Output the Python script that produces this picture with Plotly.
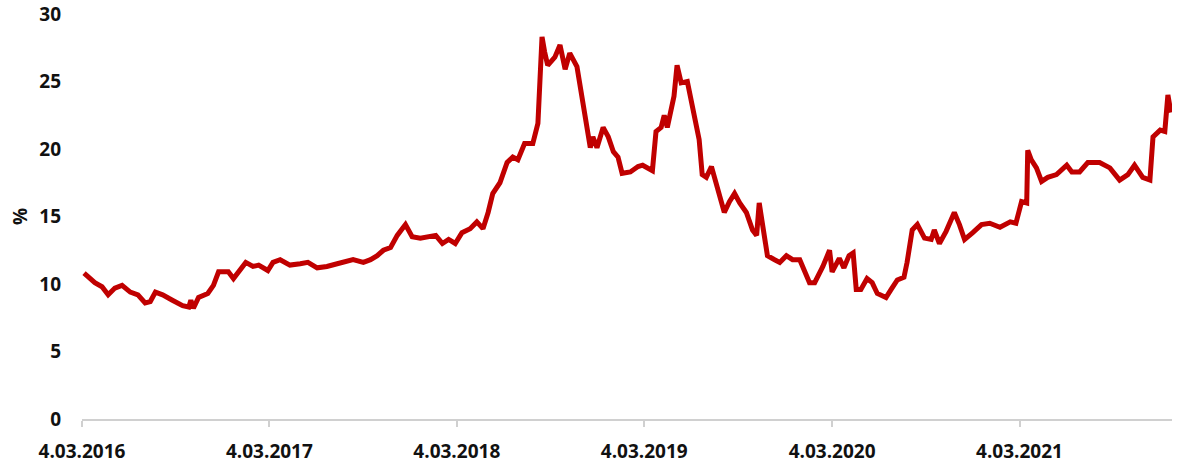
import plotly.graph_objects as go

dates = [
    "2016-03-08", "2016-03-29", "2016-04-12", "2016-04-24", "2016-05-07", "2016-05-21",
    "2016-06-06", "2016-06-21", "2016-07-05", "2016-07-15", "2016-07-25", "2016-08-08",
    "2016-08-27", "2016-09-16", "2016-09-28", "2016-10-02", "2016-10-07", "2016-10-17",
    "2016-11-04", "2016-11-15", "2016-11-25", "2016-12-14", "2016-12-24", "2017-01-03",
    "2017-01-17", "2017-01-31", "2017-02-11", "2017-03-01", "2017-03-11", "2017-03-25",
    "2017-04-13", "2017-05-03", "2017-05-18", "2017-06-05", "2017-06-24", "2017-07-14",
    "2017-08-14", "2017-09-03", "2017-09-17", "2017-09-30", "2017-10-12", "2017-10-26",
    "2017-11-08", "2017-11-24", "2017-12-07", "2017-12-23", "2018-01-12", "2018-01-22",
    "2018-02-04", "2018-02-16", "2018-03-01", "2018-03-14", "2018-03-30", "2018-04-12",
    "2018-04-24", "2018-05-04", "2018-05-13", "2018-05-27", "2018-06-10", "2018-06-21",
    "2018-07-01", "2018-07-14", "2018-07-30", "2018-08-09", "2018-08-13", "2018-08-17",
    "2018-08-22", "2018-08-28", "2018-09-11", "2018-09-21", "2018-10-01", "2018-10-10",
    "2018-10-24", "2018-11-03", "2018-11-13", "2018-11-19", "2018-11-24", "2018-12-02",
    "2018-12-14", "2018-12-24", "2019-01-03", "2019-01-12", "2019-01-20", "2019-02-05",
    "2019-02-20", "2019-03-01", "2019-03-20", "2019-03-27", "2019-04-06", "2019-04-12",
    "2019-04-18", "2019-05-01", "2019-05-07", "2019-05-15", "2019-05-27", "2019-06-10",
    "2019-06-19", "2019-06-25", "2019-07-03", "2019-07-13", "2019-07-22", "2019-08-01",
    "2019-08-07", "2019-08-17", "2019-08-27", "2019-09-06", "2019-09-19", "2019-10-01",
    "2019-10-09", "2019-10-14", "2019-10-24", "2019-10-30", "2019-11-13", "2019-11-23",
    "2019-12-06", "2019-12-18", "2020-01-01", "2020-01-11", "2020-01-20", "2020-01-30",
    "2020-02-09", "2020-02-15", "2020-02-28", "2020-03-04", "2020-03-18", "2020-03-27",
    "2020-04-06", "2020-04-14", "2020-04-20", "2020-04-29", "2020-05-11", "2020-05-21",
    "2020-05-31", "2020-06-17", "2020-06-27", "2020-07-09", "2020-07-22", "2020-07-28",
    "2020-08-07", "2020-08-17", "2020-08-31", "2020-09-13", "2020-09-19", "2020-09-29",
    "2020-10-12", "2020-10-28", "2020-11-07", "2020-11-17", "2020-12-03", "2020-12-20",
    "2021-01-05", "2021-01-25", "2021-02-14", "2021-02-25", "2021-03-08", "2021-03-18",
    "2021-03-20", "2021-03-27", "2021-04-06", "2021-04-16", "2021-04-28", "2021-05-15",
    "2021-06-04", "2021-06-14", "2021-06-29", "2021-07-15", "2021-08-07", "2021-08-27",
    "2021-09-15", "2021-10-01", "2021-10-14", "2021-10-30", "2021-11-13", "2021-11-19",
    "2021-12-03", "2021-12-12", "2021-12-18", "2021-12-24",
]

values = [
    10.8, 10.1, 9.8, 9.2, 9.7, 9.9,
    9.4, 9.2, 8.6, 8.7, 9.4, 9.2,
    8.8, 8.4, 8.3, 8.8, 8.2, 9.0,
    9.3, 9.9, 10.9, 10.9, 10.4, 10.9,
    11.6, 11.3, 11.4, 11.0, 11.6, 11.8,
    11.4, 11.5, 11.6, 11.2, 11.3, 11.5,
    11.8, 11.6, 11.8, 12.1, 12.5, 12.7,
    13.6, 14.4, 13.5, 13.4, 13.5, 13.6,
    13.0, 13.3, 13.0, 13.8, 14.1, 14.6,
    14.1, 15.3, 16.7, 17.5, 19.0, 19.4,
    19.2, 20.4, 20.4, 21.9, 25.1, 28.3,
    27.2, 26.2, 26.8, 27.7, 25.9, 27.1,
    26.1, 23.9, 21.2, 20.1, 20.9, 20.1,
    21.6, 20.9, 19.8, 19.4, 18.2, 18.3,
    18.7, 18.8, 18.4, 21.3, 21.6, 22.5,
    21.6, 23.9, 26.2, 24.9, 25.0, 22.4,
    20.7, 18.1, 17.9, 18.7, 17.5, 16.0,
    15.3, 16.1, 16.7, 16.0, 15.3, 14.0,
    13.6, 16.0, 13.3, 12.1, 11.8, 11.6,
    12.1, 11.8, 11.8, 10.9, 10.1, 10.1,
    10.8, 11.3, 12.5, 10.9, 11.9, 11.2,
    12.1, 12.3, 9.6, 9.6, 10.4, 10.1,
    9.3, 9.0, 9.6, 10.3, 10.5, 11.6,
    14.0, 14.4, 13.4, 13.3, 14.0, 13.0,
    13.9, 15.3, 14.4, 13.3, 13.8, 14.4,
    14.5, 14.2, 14.6, 14.5, 16.1, 16.0,
    19.9, 19.2, 18.6, 17.6, 17.9, 18.1,
    18.8, 18.3, 18.3, 19.0, 19.0, 18.6,
    17.7, 18.1, 18.8, 17.9, 17.7, 20.9,
    21.4, 21.3, 24.0, 22.7,
]

tick_dates = ["2016-03-04", "2017-03-04", "2018-03-04", "2019-03-04", "2020-03-04", "2021-03-04"]
tick_labels = ["4.03.2016", "4.03.2017", "4.03.2018", "4.03.2019", "4.03.2020", "4.03.2021"]
y_ticks = [0, 5, 10, 15, 20, 25, 30]

font_family = "Open Sans"

fig = go.Figure()
fig.add_trace(go.Scatter(
    x=dates, y=values, mode="lines",
    line=dict(color="#c00000", width=5),
    showlegend=False,
))

fig.update_layout(
    width=1177, height=465,
    margin=dict(l=82, r=5, t=14, b=46, autoexpand=False),
    paper_bgcolor="white", plot_bgcolor="white",
    font=dict(family=font_family, color="#111111"),
)

fig.update_xaxes(
    type="date",
    range=["2016-03-04", "2021-12-26"],
    tickvals=tick_dates, ticktext=tick_labels,
    showgrid=False, zeroline=False, automargin=False,
    showline=True, linecolor="#d0d0d0", linewidth=1.5,
    ticks="outside", ticklen=6, tickcolor="#d0d0d0", tickwidth=1.5,
    ticklabelstandoff=8,
    tickfont=dict(family=font_family, size=19, weight="bold", color="#111111"),
)

fig.update_yaxes(
    range=[0, 30],
    tickvals=y_ticks,
    showgrid=False, zeroline=False, showline=False, automargin=False,
    ticks="", ticklabelstandoff=20,
    tickfont=dict(family=font_family, size=19, weight="bold", color="#111111"),
    title=dict(text="%", standoff=6,
               font=dict(family=font_family, size=19, weight="bold", color="#111111")),
)

fig.write_html(
    "out.html",
    config={"displayModeBar": False},
    post_script="document.body.style.margin='0';document.body.style.overflow='hidden';",
)
